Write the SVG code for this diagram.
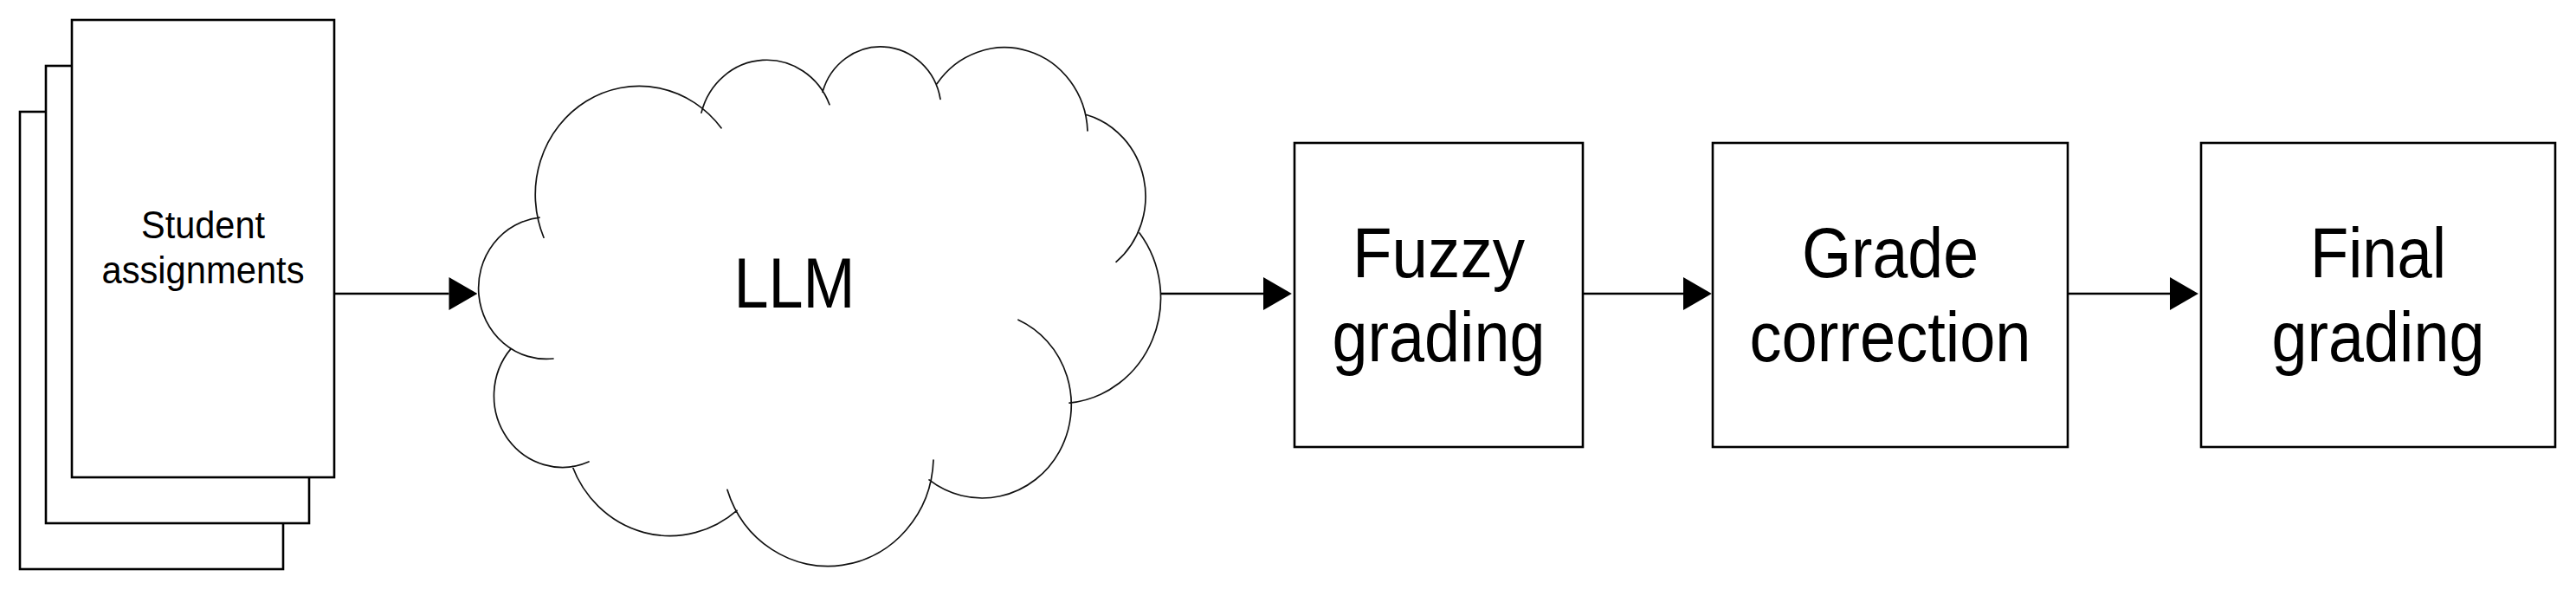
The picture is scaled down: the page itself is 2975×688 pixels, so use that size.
<svg xmlns="http://www.w3.org/2000/svg" width="2975" height="688" viewBox="0 0 2975 688">
<style>
.sheet{fill:#fff;stroke:#000;stroke-width:2.6}
.box{fill:#fff;stroke:#000;stroke-width:2.6}
.cloud{fill:none;stroke:#111;stroke-width:1.7;stroke-linecap:round}
.edge{fill:none;stroke:#000;stroke-width:2.4}
.big{font-family:"Liberation Sans",Arial,sans-serif;font-size:81px;text-anchor:middle;fill:#000}
.small{font-family:"Liberation Sans",Arial,sans-serif;font-size:44px;text-anchor:middle;fill:#000}
</style>
<defs>
<marker id="ah" markerUnits="userSpaceOnUse" markerWidth="33" markerHeight="38" viewBox="0 0 32 37" refX="0" refY="18.5" orient="auto">
<path d="M0,0 L32,18.5 L0,37 Z" fill="#000"/>
</marker>
</defs>
<rect width="2975" height="688" fill="#fff"/>
<g id="student-assignments">
<rect class="sheet" x="23" y="129" width="304" height="528"/>
<rect class="sheet" x="53" y="76" width="304" height="528"/>
<rect class="sheet" x="83" y="23" width="303" height="528"/>
<text class="small" x="234.5" y="275" textLength="143" lengthAdjust="spacingAndGlyphs">Student</text>
<text class="small" x="234.5" y="327" textLength="234" lengthAdjust="spacingAndGlyphs">assignments</text>
</g>
<g id="llm">
<path class="cloud" d="M 628 274.2 A 120 125.3 0 0 1 833 147.8
M 810 130.1 A 78 81.4 0 0 1 958 120.7
M 950 106.1 A 70 73.1 0 0 1 1086 114.4
M 1082 96.7 A 96 100.2 0 0 1 1256 151
M 1254 132.2 A 94 98.1 0 0 1 1289 302.3
M 1316 268.9 A 117 122.1 0 0 1 1235 465.2
M 1176 369.2 A 103 107.5 0 1 1 1073 553.9
M 1078 531 A 122 127.4 0 0 1 840 565.4
M 851 589.4 A 121 126.3 0 0 1 661 538.3
M 680 533 A 79 82.5 0 0 1 590 402.6
M 639 414 A 78 81.4 0 0 1 623 251.2"/>
<text class="big" x="917.5" y="355" textLength="140" lengthAdjust="spacingAndGlyphs">LLM</text>
</g>
<g id="fuzzy-grading">
<rect class="box" x="1495" y="165" width="333" height="351"/>
<text class="big" x="1661.5" y="320" textLength="199" lengthAdjust="spacingAndGlyphs">Fuzzy</text>
<text class="big" x="1661.5" y="417" textLength="246" lengthAdjust="spacingAndGlyphs">grading</text>
</g>
<g id="grade-correction">
<rect class="box" x="1978" y="165" width="410" height="351"/>
<text class="big" x="2183" y="320" textLength="204" lengthAdjust="spacingAndGlyphs">Grade</text>
<text class="big" x="2183" y="417" textLength="325" lengthAdjust="spacingAndGlyphs">correction</text>
</g>
<g id="final-grading">
<rect class="box" x="2542" y="165" width="409" height="351"/>
<text class="big" x="2746.5" y="320" textLength="157" lengthAdjust="spacingAndGlyphs">Final</text>
<text class="big" x="2746.5" y="417" textLength="246" lengthAdjust="spacingAndGlyphs">grading</text>
</g>
<g id="connectors">
<path class="edge" d="M386 339 H518.5" marker-end="url(#ah)"/>
<path class="edge" d="M1341 339 H1459" marker-end="url(#ah)"/>
<path class="edge" d="M1828 339 H1944" marker-end="url(#ah)"/>
<path class="edge" d="M2388 339 H2506" marker-end="url(#ah)"/>
</g>
</svg>
